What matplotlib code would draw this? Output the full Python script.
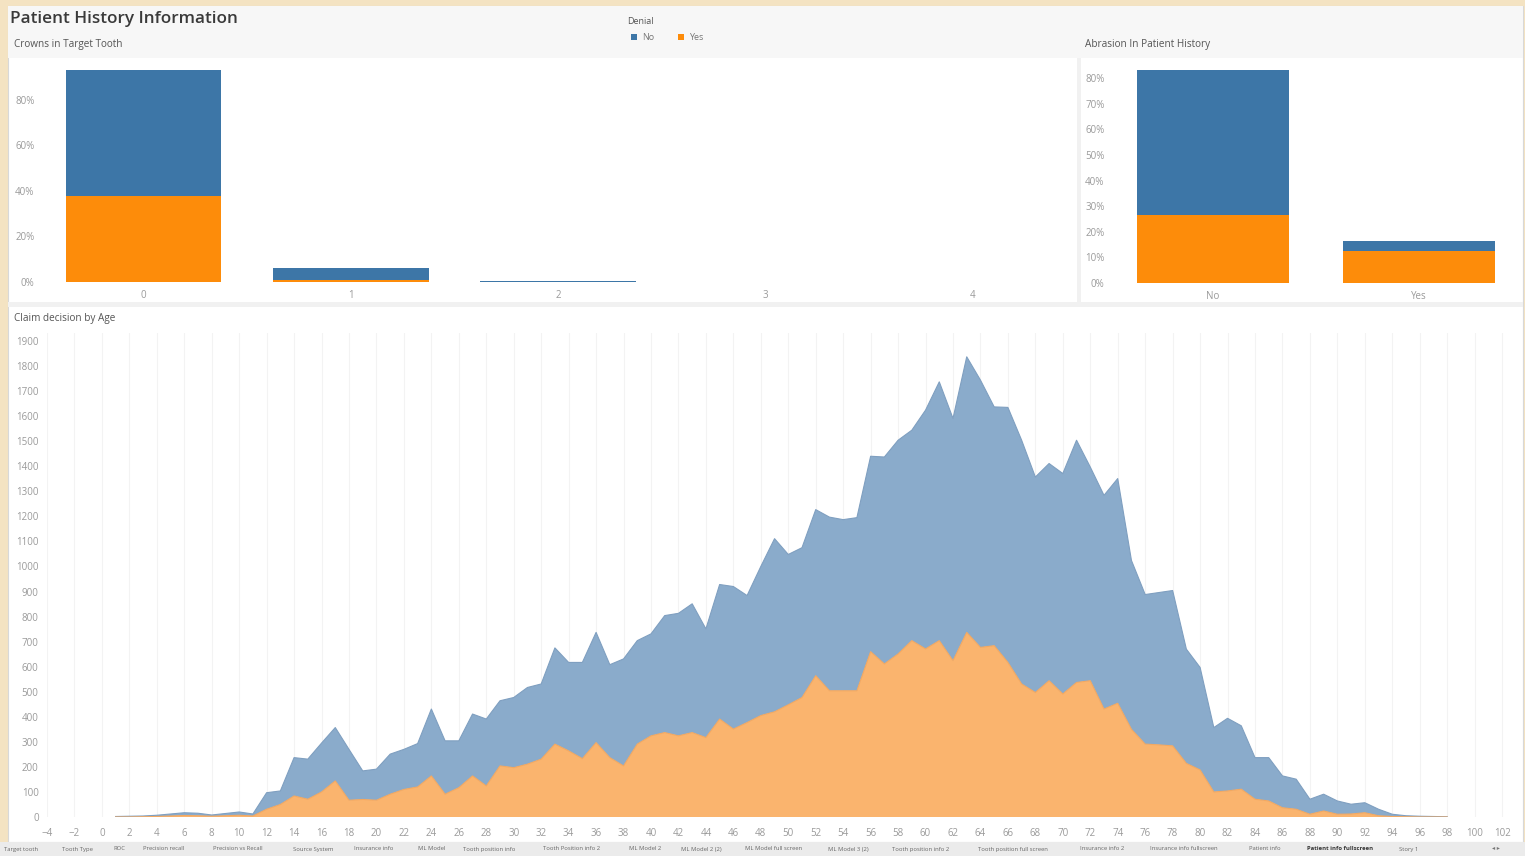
import matplotlib
matplotlib.use("Agg")
import matplotlib.pyplot as plt
from matplotlib.patches import Rectangle
import numpy as np

plt.rcParams['font.family'] = ['Open Sans', 'DejaVu Sans']

# --- data ---
crown_cats = ['0', '1', '2', '3', '4']
crown_no = [55.4, 5.3, 0.25, 0.0, 0.0]     # % of all claims, Denial = No
crown_yes = [37.8, 0.9, 0.05, 0.0, 0.0]    # % of all claims, Denial = Yes

abrasion_cats = ['No', 'Yes']
abrasion_no = [56.6, 3.9]
abrasion_yes = [26.6, 12.5]

ages = list(range(1, 99))
claims_total = [2, 3, 4, 7, 12, 17, 15, 8, 14, 20,
                12, 97, 104, 237, 231, 295, 357, 270, 184, 191,
                251, 270, 293, 431, 304, 304, 411, 391, 464, 477,
                517, 531, 675, 617, 617, 737, 608, 631, 704, 731,
                804, 813, 851, 751, 928, 920, 884, 1000, 1111, 1048,
                1075, 1227, 1197, 1187, 1195, 1440, 1437, 1504, 1544, 1624,
                1737, 1591, 1837, 1744, 1637, 1635, 1504, 1357, 1411, 1371,
                1504, 1397, 1284, 1351, 1024, 888, 896, 904, 670, 597,
                357, 394, 364, 237, 237, 164, 151, 71, 91, 64,
                51, 57, 31, 11, 5, 3, 2, 1]
claims_denied = [0, 0, 1, 2, 4, 6, 5, 3, 5, 7,
                 4, 31, 50, 84, 71, 100, 144, 67, 70, 67,
                 91, 110, 120, 164, 91, 117, 164, 124, 204, 197,
                 211, 231, 291, 264, 233, 297, 237, 204, 291, 324,
                 337, 324, 337, 317, 391, 351, 377, 405, 420, 448,
                 477, 564, 504, 504, 504, 660, 611, 651, 704, 671,
                 704, 624, 737, 677, 684, 617, 531, 497, 544, 491,
                 537, 544, 431, 454, 350, 291, 288, 284, 214, 188,
                 100, 104, 111, 71, 64, 37, 31, 11, 24, 11,
                 12, 17, 5, 2, 1, 0, 0, 0]
claims_ok = [t - d for t, d in zip(claims_total, claims_denied)]

age_ticks = list(range(-4, 103, 2))
count_ticks = list(range(0, 2000, 100))

BLUE = '#3d76a7'
ORANGE = '#fd8c0a'
AREA_BLUE = '#8aabcb'
AREA_ORANGE = '#fab46e'
TICK = '#9a9a9a'

W, H = 1525, 856
fig = plt.figure(figsize=(W / 100, H / 100), dpi=100)
fig.patch.set_facecolor('#f4e3c2')


def px_axes(x0, y0, x1, y1):
    return fig.add_axes([x0 / W, 1 - y1 / H, (x1 - x0) / W, (y1 - y0) / H])


# background layer in pixel coordinates
bg = fig.add_axes([0, 0, 1, 1])
bg.set_xlim(0, W)
bg.set_ylim(H, 0)
bg.axis('off')
bg.add_patch(Rectangle((8, 6), 1515, 836, facecolor='white', edgecolor='#d8d8d8', lw=0.8))
bg.add_patch(Rectangle((8, 6), 1515, 52, facecolor='#f7f7f7', edgecolor='none'))
bg.add_patch(Rectangle((8, 302), 1515, 5, facecolor='#f1f1f1', edgecolor='none'))
bg.add_patch(Rectangle((1077, 58), 4, 244, facecolor='#f1f1f1', edgecolor='none'))
bg.add_patch(Rectangle((0, 842), W, 14, facecolor='#ebebeb', edgecolor='none'))

bg.text(10, 19, 'Patient History Information', fontsize=12.3, fontweight='semibold',
        color='#3a3a3a', va='center', ha='left')
bg.text(14, 44, 'Crowns in Target Tooth', fontsize=7.2, color='#555555', va='center')
bg.text(1085, 44, 'Abrasion In Patient History', fontsize=7.2, color='#555555', va='center')
bg.text(14, 318, 'Claim decision by Age', fontsize=7.2, color='#555555', va='center')

# legend
bg.text(627, 21, 'Denial', fontsize=6.5, color='#555555', va='center')
bg.add_patch(Rectangle((631, 34), 6, 6, facecolor=BLUE, edgecolor='none'))
bg.text(642, 37, 'No', fontsize=6.5, color='#777777', va='center')
bg.add_patch(Rectangle((678, 34), 6, 6, facecolor=ORANGE, edgecolor='none'))
bg.text(689, 37, 'Yes', fontsize=6.5, color='#777777', va='center')

# tab strip
tabs = ['Target tooth', 'Tooth Type', 'ROC', 'Precision recall', 'Precision vs Recall',
        'Source System', 'Insurance info', 'ML Model', 'Tooth position info',
        'Tooth Position info 2', 'ML Model 2', 'ML Model 2 (2)', 'ML Model full screen',
        'ML Model 3 (2)', 'Tooth position info 2', 'Tooth position full screen',
        'Insurance info 2', 'Insurance info fullscreen', 'Patient info',
        'Patient info fullscreen', 'Story 1']
tab_x = 4
for t in tabs:
    bold = t == 'Patient info fullscreen'
    bg.text(tab_x, 849, t, fontsize=4.2, color='#333333' if bold else '#666666',
            fontweight='bold' if bold else 'normal', va='center')
    tab_x += len(t) * 3.15 + 20
bg.text(1492, 849, '\u25c2 \u25b8', fontsize=4.5, color='#777777', va='center')


def style_axes(ax):
    ax.set_facecolor('none')
    for s in ax.spines.values():
        s.set_visible(False)
    ax.tick_params(length=0, colors=TICK, labelsize=7)


def pct(v, _):
    return '%d%%' % round(v)


# --- Crowns in Target Tooth ---
ax1 = px_axes(40, 62, 1076, 282)
style_axes(ax1)
xc = np.arange(len(crown_cats))
ax1.bar(xc, crown_yes, width=0.75, color=ORANGE)
ax1.bar(xc, crown_no, width=0.75, bottom=crown_yes, color=BLUE)
ax1.set_xlim(-0.5, 4.5)
ax1.set_ylim(0, 96.7)
ax1.set_xticks(xc)
ax1.set_xticklabels(crown_cats)
ax1.set_yticks([0, 20, 40, 60, 80])
ax1.yaxis.set_major_formatter(pct)
ax1.tick_params(axis='x', pad=6)
ax1.tick_params(axis='y', pad=4)

# --- Abrasion In Patient History ---
ax2 = px_axes(1110, 62, 1522, 283)
style_axes(ax2)
xa = np.arange(len(abrasion_cats))
ax2.bar(xa, abrasion_yes, width=0.74, color=ORANGE)
ax2.bar(xa, abrasion_no, width=0.74, bottom=abrasion_yes, color=BLUE)
ax2.set_xlim(-0.5, 1.5)
ax2.set_ylim(0, 86.3)
ax2.set_xticks(xa)
ax2.set_xticklabels(abrasion_cats)
ax2.set_yticks(list(range(0, 90, 10)))
ax2.yaxis.set_major_formatter(pct)
ax2.tick_params(axis='x', pad=6)
ax2.tick_params(axis='y', pad=4)

# --- Claim decision by Age ---
ax3 = px_axes(47, 333, 1522, 817)
style_axes(ax3)
ax3.stackplot(ages, claims_denied, claims_ok, colors=[AREA_ORANGE, AREA_BLUE],
              edgecolor='none')
ax3.plot(ages, claims_total, color='#7f9fc0', lw=0.8)
ax3.plot(ages, claims_denied, color='#f3a860', lw=0.8)
ax3.set_xlim(-3.8, 103.45)
ax3.set_ylim(0, 1932)
ax3.set_xticks(age_ticks)
ax3.set_yticks(count_ticks)
ax3.grid(axis='x', color='#f3f3f3', lw=0.8)
ax3.set_axisbelow(True)
ax3.tick_params(axis='x', pad=8)
ax3.tick_params(axis='y', pad=6)

fig.savefig('out.png', dpi=100, facecolor=fig.get_facecolor())
